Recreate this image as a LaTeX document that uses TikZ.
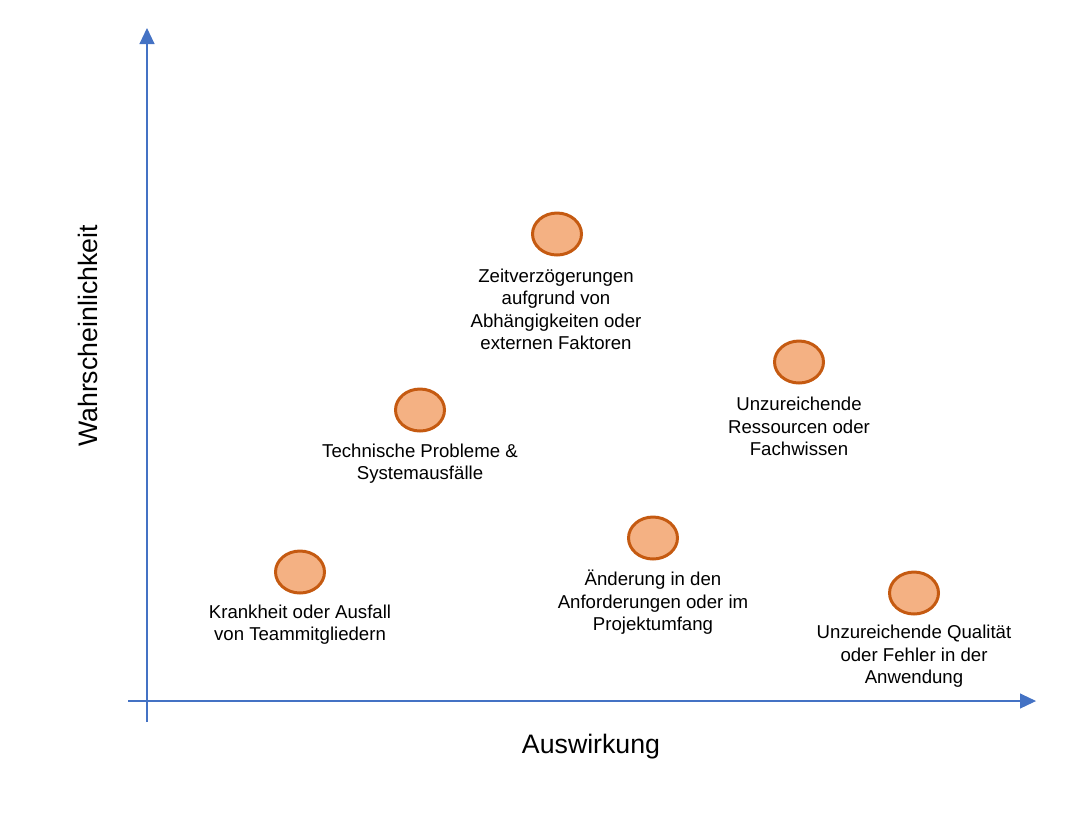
\documentclass[tikz,border=0pt]{standalone}
\usepackage{fontspec}
\setmainfont{Liberation Sans}
\usetikzlibrary{shapes.geometric,arrows.meta}
\definecolor{axisblue}{HTML}{4472C4}
\definecolor{riskfill}{HTML}{F4B183}
\definecolor{riskedge}{HTML}{C55A11}
\begin{document}
\begin{tikzpicture}[x=0.02cm, y=-0.02cm,
  risk/.style={ellipse, draw=riskedge, fill=riskfill, line width=1.7pt,
    minimum width=0.98cm, minimum height=0.84cm, inner sep=0pt},
  lbl/.style={align=center, inner sep=0pt, font=\fontsize{10.6}{12.8}\selectfont},
  axlbl/.style={inner sep=0pt, font=\fontsize{15.2}{18}\selectfont},
  axis/.style={draw=axisblue, line width=0.6pt, -{Triangle[length=0.32cm, width=0.3cm]}}]
\useasboundingbox (0,0) rectangle (1087,823);
% axes
\coordinate (Y_0) at (147,722);
\coordinate (Y_1) at (147,28);
\coordinate (X_0) at (128,701);
\coordinate (X_1) at (1036,701);
\draw[axis] (Y_0) -- (Y_1);
\draw[axis] (X_0) -- (X_1);
\node[axlbl] (X_lbl) at (591,747) {Auswirkung};
\node[axlbl, rotate=90] (Y_lbl) at (88,336) {Wahrscheinlichkeit};
% risks
\node[risk] (R_1) at (557,234) {};
\node[lbl] (L_1) at (556,309.5) {Zeitverzögerungen\\aufgrund von\\Abhängigkeiten oder\\externen Faktoren};
\node[risk] (R_2) at (420,410) {};
\node[lbl] (L_2) at (420,463.5) {Technische Probleme \&\\Systemausfälle};
\node[risk] (R_3) at (300,572) {};
\node[lbl] (L_3) at (300,624.5) {Krankheit oder Ausfall\\von Teammitgliedern};
\node[risk] (R_4) at (653,538) {};
\node[lbl] (L_4) at (653,602.5) {Änderung in den\\Anforderungen oder im\\Projektumfang};
\node[risk] (R_5) at (799,362) {};
\node[lbl] (L_5) at (799,426.5) {Unzureichende\\Ressourcen oder\\Fachwissen};
\node[risk] (R_6) at (914,593) {};
\node[lbl] (L_6) at (914,656.5) {Unzureichende Qualität\\oder Fehler in der\\Anwendung};
\end{tikzpicture}
\end{document}
